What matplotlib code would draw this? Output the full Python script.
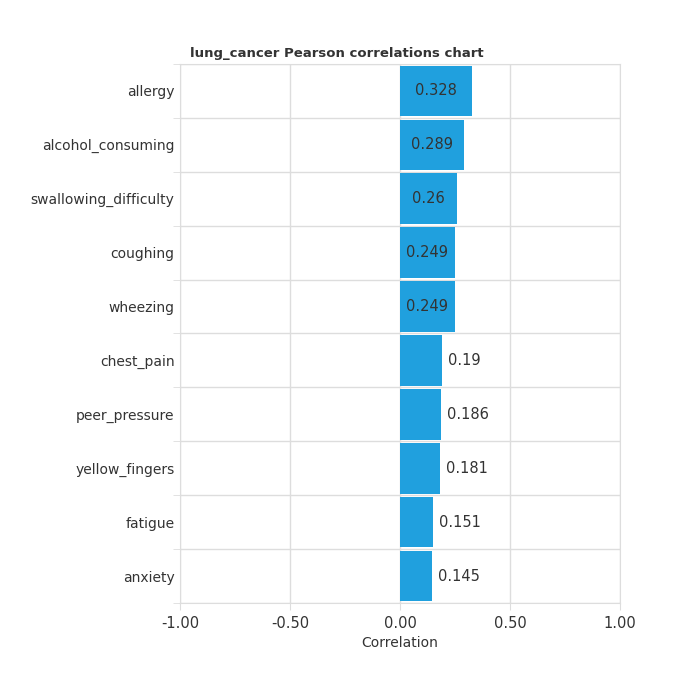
import matplotlib
matplotlib.use("Agg")
import matplotlib.pyplot as plt

features = ["allergy", "alcohol_consuming", "swallowing_difficulty", "coughing", "wheezing",
            "chest_pain", "peer_pressure", "yellow_fingers", "fatigue", "anxiety"]
correlations = [0.328, 0.289, 0.26, 0.249, 0.249, 0.19, 0.186, 0.181, 0.151, 0.145]
value_labels = ["0.328", "0.289", "0.26", "0.249", "0.249", "0.19", "0.186", "0.181", "0.151", "0.145"]

plt.rcParams['font.family'] = ['DejaVu Sans']
text_color = "#333333"
grid_color = "#dddddd"

fig = plt.figure(figsize=(6.8, 6.82), dpi=100)
ax = fig.add_axes([180 / 680, 1 - 603 / 682, 440 / 680, 539 / 682])

ypos = list(range(len(features)))
ax.barh(ypos, correlations, height=0.94, color="#20a0de", zorder=3)

for y, v, lab in zip(ypos, correlations, value_labels):
    if v >= 0.2:
        ax.text(v / 2, y, lab, ha="center", va="center", fontsize=10.5, color=text_color, zorder=4)
    else:
        ax.text(v + 0.027, y, lab, ha="left", va="center", fontsize=10.5, color=text_color, zorder=4)

ax.set_xlim(-1, 1)
ax.set_ylim(len(features) - 0.5, -0.5)
ax.set_xticks([-1, -0.5, 0, 0.5, 1])
ax.set_xticklabels(["-1.00", "-0.50", "0.00", "0.50", "1.00"])
ax.set_yticks(ypos)
ax.set_yticklabels(features)
ax.set_yticks([i - 0.5 for i in range(len(features) + 1)], minor=True)

ax.grid(True, axis="x", color=grid_color, linewidth=1, zorder=0)
ax.grid(True, axis="y", which="minor", color=grid_color, linewidth=1, zorder=0)
ax.tick_params(axis="y", which="major", length=0, pad=4, labelsize=10, labelcolor=text_color)
ax.tick_params(axis="y", which="minor", length=5, color=grid_color)
ax.tick_params(axis="x", length=5, color=grid_color, labelsize=10.5, labelcolor=text_color, pad=4)

for side in ["left", "bottom", "top", "right"]:
    ax.spines[side].set_color(grid_color)

ax.set_xlabel("Correlation", fontsize=10, color=text_color, labelpad=4)
ax.set_title("lung_cancer Pearson correlations chart", loc="left", x=0.023, fontsize=9.5,
             fontweight="bold", color=text_color, pad=5)

fig.savefig("out.png", dpi=100)
